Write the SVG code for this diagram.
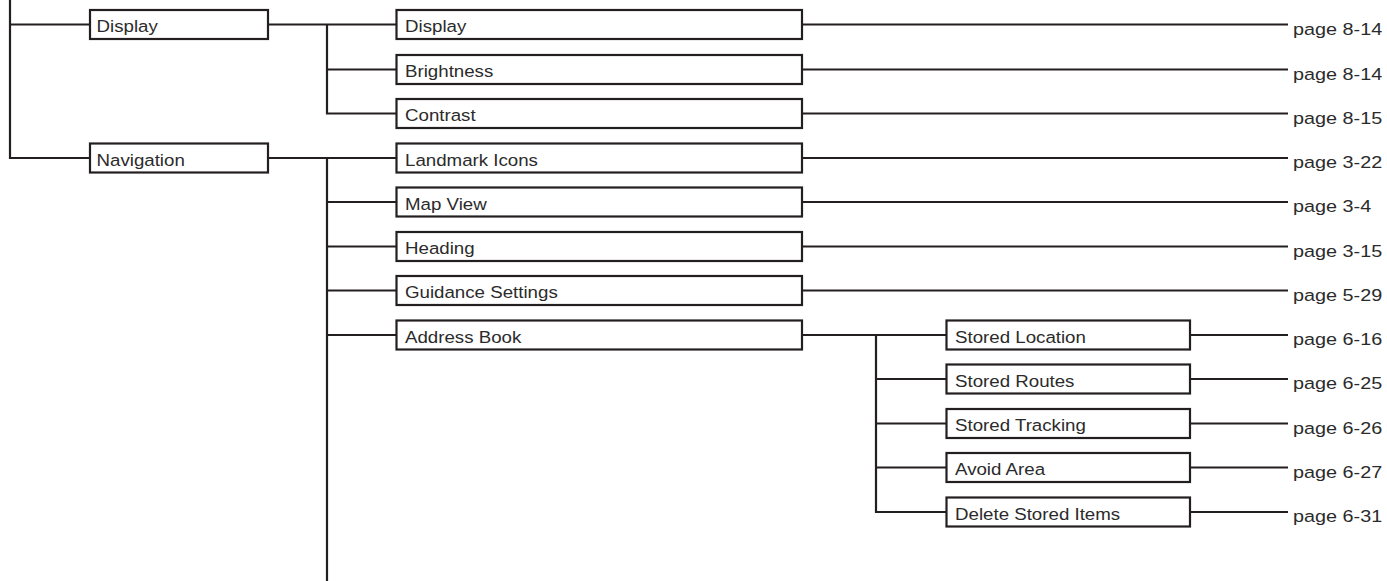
<svg xmlns="http://www.w3.org/2000/svg" width="1387" height="581" viewBox="0 0 1387 581">
<style>
  .box { fill: #ffffff; stroke: #231f20; stroke-width: 2.2; }
  .lbl { font-family: "Liberation Sans", Arial, sans-serif; font-size: 17px; fill: #2b2b2b; }
  .pg { font-family: "Liberation Sans", Arial, sans-serif; font-size: 16.5px; fill: #2b2b2b; }
  #connectors line, #connectors path { stroke: #231f20; stroke-width: 2.2; fill: none; }
</style>
<rect x="0" y="0" width="1387" height="581" fill="#ffffff"/>
<g id="connectors">
  <path d="M10,0 V158 H90"/>
  <line x1="10" y1="24.5" x2="90" y2="24.5"/>
  <line x1="268" y1="24.5" x2="396.5" y2="24.5"/>
  <path d="M327,24.5 V113.5 H396.5"/>
  <line x1="327" y1="69.5" x2="396.5" y2="69.5"/>
  <line x1="268" y1="158" x2="396.5" y2="158"/>
  <line x1="327" y1="158" x2="327" y2="581"/>
  <line x1="327" y1="202" x2="396.5" y2="202"/>
  <line x1="327" y1="246.5" x2="396.5" y2="246.5"/>
  <line x1="327" y1="290.5" x2="396.5" y2="290.5"/>
  <line x1="327" y1="335" x2="396.5" y2="335"/>
  <line x1="802" y1="24.5" x2="1288" y2="24.5"/>
  <line x1="802" y1="69.5" x2="1288" y2="69.5"/>
  <line x1="802" y1="113.5" x2="1288" y2="113.5"/>
  <line x1="802" y1="158" x2="1288" y2="158"/>
  <line x1="802" y1="202" x2="1288" y2="202"/>
  <line x1="802" y1="246.5" x2="1288" y2="246.5"/>
  <line x1="802" y1="290.5" x2="1288" y2="290.5"/>
  <line x1="802" y1="335" x2="946.5" y2="335"/>
  <path d="M876,335 V512 H946.5"/>
  <line x1="876" y1="379" x2="946.5" y2="379"/>
  <line x1="876" y1="423.5" x2="946.5" y2="423.5"/>
  <line x1="876" y1="467.5" x2="946.5" y2="467.5"/>
  <line x1="1190" y1="335" x2="1288" y2="335"/>
  <line x1="1190" y1="379" x2="1288" y2="379"/>
  <line x1="1190" y1="423.5" x2="1288" y2="423.5"/>
  <line x1="1190" y1="467.5" x2="1288" y2="467.5"/>
  <line x1="1190" y1="512" x2="1288" y2="512"/>
</g>

<g id="n-display-top"><rect class="box" x="90" y="10" width="178" height="29"/><text class="lbl" transform="translate(96.5,32) scale(1.1,1)">Display</text></g>
<g id="n-navigation"><rect class="box" x="90" y="143.5" width="178" height="29"/><text class="lbl" transform="translate(96.5,165.5) scale(1.1,1)">Navigation</text></g>

<g id="n-display"><rect class="box" x="396.5" y="10" width="405.5" height="29"/><text class="lbl" transform="translate(405,32) scale(1.1,1)">Display</text></g>
<g id="n-brightness"><rect class="box" x="396.5" y="55" width="405.5" height="29"/><text class="lbl" transform="translate(405,77) scale(1.1,1)">Brightness</text></g>
<g id="n-contrast"><rect class="box" x="396.5" y="99" width="405.5" height="29"/><text class="lbl" transform="translate(405,121) scale(1.1,1)">Contrast</text></g>
<g id="n-landmark"><rect class="box" x="396.5" y="143.5" width="405.5" height="29"/><text class="lbl" transform="translate(405,165.5) scale(1.1,1)">Landmark Icons</text></g>
<g id="n-mapview"><rect class="box" x="396.5" y="187.5" width="405.5" height="29"/><text class="lbl" transform="translate(405,209.5) scale(1.1,1)">Map View</text></g>
<g id="n-heading"><rect class="box" x="396.5" y="232" width="405.5" height="29"/><text class="lbl" transform="translate(405,254) scale(1.1,1)">Heading</text></g>
<g id="n-guidance"><rect class="box" x="396.5" y="276" width="405.5" height="29"/><text class="lbl" transform="translate(405,298) scale(1.1,1)">Guidance Settings</text></g>
<g id="n-addressbook"><rect class="box" x="396.5" y="320.5" width="405.5" height="29"/><text class="lbl" transform="translate(405,342.5) scale(1.1,1)">Address Book</text></g>

<g id="n-storedlocation"><rect class="box" x="946.5" y="320.5" width="243.5" height="29"/><text class="lbl" transform="translate(955,342.5) scale(1.1,1)">Stored Location</text></g>
<g id="n-storedroutes"><rect class="box" x="946.5" y="364.5" width="243.5" height="29"/><text class="lbl" transform="translate(955,386.5) scale(1.1,1)">Stored Routes</text></g>
<g id="n-storedtracking"><rect class="box" x="946.5" y="409" width="243.5" height="29"/><text class="lbl" transform="translate(955,431) scale(1.1,1)">Stored Tracking</text></g>
<g id="n-avoidarea"><rect class="box" x="946.5" y="453" width="243.5" height="29"/><text class="lbl" transform="translate(955,475) scale(1.1,1)">Avoid Area</text></g>
<g id="n-deleteitems"><rect class="box" x="946.5" y="497.5" width="243.5" height="29"/><text class="lbl" transform="translate(955,519.5) scale(1.1,1)">Delete Stored Items</text></g>

<g id="pages">
  <text class="pg" transform="translate(1293,34.5) scale(1.2,1)">page 8-14</text>
  <text class="pg" transform="translate(1293,79.5) scale(1.2,1)">page 8-14</text>
  <text class="pg" transform="translate(1293,123.5) scale(1.2,1)">page 8-15</text>
  <text class="pg" transform="translate(1293,168) scale(1.2,1)">page 3-22</text>
  <text class="pg" transform="translate(1293,212) scale(1.2,1)">page 3-4</text>
  <text class="pg" transform="translate(1293,256.5) scale(1.2,1)">page 3-15</text>
  <text class="pg" transform="translate(1293,300.5) scale(1.2,1)">page 5-29</text>
  <text class="pg" transform="translate(1293,345) scale(1.2,1)">page 6-16</text>
  <text class="pg" transform="translate(1293,389) scale(1.2,1)">page 6-25</text>
  <text class="pg" transform="translate(1293,433.5) scale(1.2,1)">page 6-26</text>
  <text class="pg" transform="translate(1293,477.5) scale(1.2,1)">page 6-27</text>
  <text class="pg" transform="translate(1293,522) scale(1.2,1)">page 6-31</text>
</g>
</svg>
